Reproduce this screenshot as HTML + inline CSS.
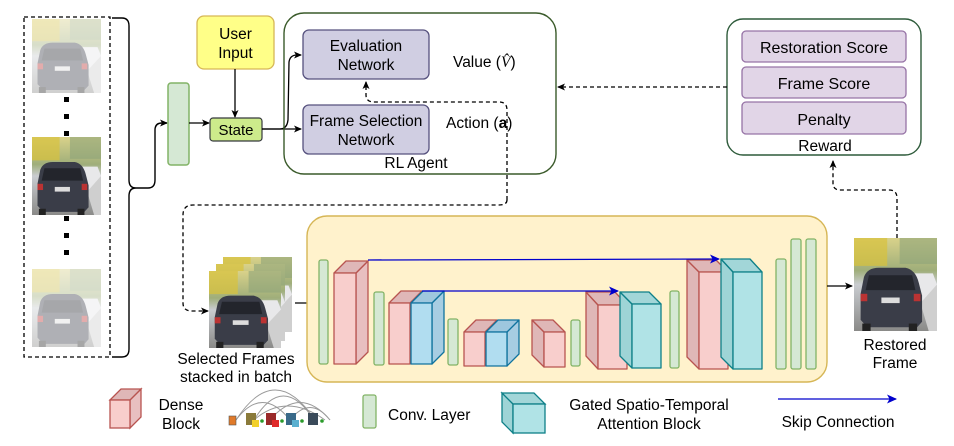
<!DOCTYPE html>
<html><head><meta charset="utf-8"><style>
html,body{margin:0;padding:0;background:#fff;width:954px;height:446px;overflow:hidden}
svg{display:block}
text{font-family:"Liberation Sans",sans-serif;fill:#000}
</style></head><body>
<svg width="954" height="446" viewBox="0 0 954 446" xmlns="http://www.w3.org/2000/svg">
<defs>
<marker id="ab" markerWidth="8" markerHeight="8" refX="7" refY="4" orient="auto" markerUnits="userSpaceOnUse"><path d="M0,0.5 L8,4 L0,7.5 L2,4z" fill="#000"/></marker>
<marker id="abl" markerWidth="10" markerHeight="10" refX="9" refY="5" orient="auto" markerUnits="userSpaceOnUse"><path d="M0,0.5 L10,5 L0,9.5 L2.5,5z" fill="#0000cc"/></marker>
<linearGradient id="sky" x1="0" y1="0" x2="0" y2="1"><stop offset="0" stop-color="#d9d28a"/><stop offset="0.35" stop-color="#9fae7a"/><stop offset="0.5" stop-color="#c9ccd0"/><stop offset="1" stop-color="#8a8a88"/></linearGradient>
<g id="car">
<rect x="0" y="0" width="100" height="100" fill="url(#sky)"/>
<rect x="0" y="0" width="40" height="30" fill="#d8c23a" opacity="0.7"/>
<rect x="55" y="0" width="45" height="28" fill="#8ea37a" opacity="0.6"/>
<path d="M72,38 L95,38 L100,50 L100,70 L78,75z" fill="#e8e8ea"/>
<path d="M80,70 L100,50 L100,100 L90,100z" fill="#cfcfcf"/>
<path d="M12,42 Q16,32 30,32 L62,32 Q74,34 78,48 L82,62 L82,90 L76,96 L16,96 L8,88 L8,60z" fill="#3a3d48"/>
<path d="M18,40 L70,40 L74,56 L14,56z" fill="#23252c"/>
<rect x="33" y="64" width="22" height="6" fill="#ddd"/>
<rect x="8" y="60" width="8" height="8" fill="#b33"/><rect x="72" y="60" width="8" height="8" fill="#b33"/>
<rect x="10" y="92" width="10" height="8" fill="#222"/><rect x="66" y="92" width="10" height="8" fill="#222"/>
</g>
</defs>

<rect x="24" y="17" width="86" height="340" fill="none" stroke="#000" stroke-dasharray="4,3" stroke-width="1.3"/>
<g transform="translate(32,19) scale(0.69,0.74)" opacity="0.4"><use href="#car"/></g>
<rect x="64" y="97" width="5" height="5"/><rect x="64" y="114" width="5" height="5"/><rect x="64" y="131" width="5" height="5"/>
<g transform="translate(32,137) scale(0.69,0.78)"><use href="#car"/></g>
<rect x="64" y="216" width="5" height="5"/><rect x="64" y="233" width="5" height="5"/><rect x="64" y="250" width="5" height="5"/>
<g transform="translate(32,269) scale(0.69,0.78)" opacity="0.4"><use href="#car"/></g>

<path d="M112,18 L122,18 Q129,18 129,26 L129,180 Q129,188 136,188 Q129,188 129,196 L129,349 Q129,357 122,357 L112,357" fill="none" stroke="#000" stroke-width="1.4"/>
<path d="M136,188 L148,188 Q155,188 155,180 L155,130 Q155,123 162,123 L167,123" fill="none" stroke="#000" stroke-width="1.4" marker-end="url(#ab)"/>

<rect x="168" y="83" width="21" height="82" rx="3" fill="#d5e8d4" stroke="#82b366" stroke-width="1.5"/>
<line x1="189" y1="123" x2="209" y2="123" stroke="#000" stroke-width="1.3" marker-end="url(#ab)"/>

<rect x="197" y="16" width="77" height="53" rx="7" fill="#ffff88" stroke="#d6b656" stroke-width="1.3"/>
<text x="235.5" y="39" font-size="15.5" text-anchor="middle">User</text>
<text x="235.5" y="58" font-size="15.5" text-anchor="middle">Input</text>
<line x1="235" y1="69" x2="235" y2="117" stroke="#000" stroke-width="1.3" marker-end="url(#ab)"/>

<rect x="210" y="118" width="52" height="23" rx="3" fill="#cdeb8b" stroke="#36393d" stroke-width="1.2"/>
<text x="236" y="135" font-size="15" text-anchor="middle">State</text>
<path d="M262,129 L280,129 Q287,129 288,120 L289,62 Q290,55 297,55 L301,55" fill="none" stroke="#000" stroke-width="1.3" marker-end="url(#ab)"/>
<line x1="262" y1="129" x2="301" y2="129" stroke="#000" stroke-width="1.3" marker-end="url(#ab)"/>

<rect x="284" y="13" width="272" height="161" rx="20" fill="none" stroke="#3a5a2a" stroke-width="1.4"/>
<rect x="303" y="30" width="126" height="49" rx="6" fill="#d0cee2" stroke="#56517e" stroke-width="1.3"/>
<text x="366" y="51" font-size="15.5" text-anchor="middle">Evaluation</text>
<text x="366" y="70" font-size="15.5" text-anchor="middle">Network</text>
<rect x="303" y="105" width="126" height="49" rx="6" fill="#d0cee2" stroke="#56517e" stroke-width="1.3"/>
<text x="366" y="126" font-size="15.5" text-anchor="middle">Frame Selection</text>
<text x="366" y="145" font-size="15.5" text-anchor="middle">Network</text>
<text x="453" y="67" font-size="15.5">Value (<tspan font-family="Liberation Serif" font-style="italic">V̂</tspan>)</text>
<text x="446" y="128" font-size="15.5">Action (<tspan font-weight="bold">a</tspan>)</text>
<text x="416" y="168" font-size="15.5" text-anchor="middle">RL Agent</text>

<path d="M507,200 L507,110 Q507,102 499,102 L374,102 Q366,102 366,95 L366,82" fill="none" stroke="#000" stroke-dasharray="4,3" stroke-width="1.3" marker-end="url(#ab)"/>
<path d="M507,200 Q507,205 499,205 L193,205 Q183,205 183,215 L183,303 Q183,311 192,311 L208,311" fill="none" stroke="#000" stroke-dasharray="4,3" stroke-width="1.3" marker-end="url(#ab)"/>

<rect x="727" y="19" width="194" height="136" rx="16" fill="none" stroke="#2d5a3a" stroke-width="1.4"/>
<rect x="742" y="31" width="164" height="31" rx="4" fill="#e1d5e7" stroke="#9673a6" stroke-width="1.3"/>
<text x="824" y="53" font-size="16" text-anchor="middle">Restoration Score</text>
<rect x="742" y="67" width="164" height="31" rx="4" fill="#e1d5e7" stroke="#9673a6" stroke-width="1.3"/>
<text x="824" y="89" font-size="16" text-anchor="middle">Frame Score</text>
<rect x="742" y="102" width="164" height="32" rx="4" fill="#e1d5e7" stroke="#9673a6" stroke-width="1.3"/>
<text x="824" y="125" font-size="16" text-anchor="middle">Penalty</text>
<text x="825" y="151" font-size="15.5" text-anchor="middle">Reward</text>
<line x1="727" y1="87" x2="558" y2="87" stroke="#000" stroke-dasharray="4,3" stroke-width="1.3" marker-end="url(#ab)"/>
<path d="M897,238 L897,198 Q897,190 889,190 L840,190 Q833,190 833,183 L833,161" fill="none" stroke="#000" stroke-dasharray="4,3" stroke-width="1.3" marker-end="url(#ab)"/>

<g transform="translate(223,257) scale(0.69,0.75)"><use href="#car"/></g>
<g transform="translate(216,264) scale(0.69,0.77)"><use href="#car"/></g>
<g transform="translate(209,271) scale(0.72,0.77)"><use href="#car"/></g>
<text x="236" y="364" font-size="15.5" text-anchor="middle">Selected Frames</text>
<text x="236" y="382" font-size="15.5" text-anchor="middle">stacked in batch</text>
<line x1="295" y1="303" x2="317" y2="303" stroke="#000" stroke-width="1.3" marker-end="url(#ab)"/>

<rect x="307" y="216" width="520" height="166" rx="20" fill="#fff2cc" stroke="#d6b656" stroke-width="1.4"/>
<g stroke="#82b366" stroke-width="1.3" fill="#d5e8d4">
<rect x="319" y="260" width="9" height="104" rx="2"/>
<rect x="374" y="292" width="10" height="73" rx="2"/>
<rect x="448" y="319" width="10" height="46" rx="2"/>
<rect x="571" y="320" width="9" height="46" rx="2"/>
<rect x="670" y="291" width="9" height="77" rx="2"/>
<rect x="776" y="259" width="10" height="110" rx="2"/>
<rect x="791" y="239" width="10" height="130" rx="2"/>
<rect x="806" y="239" width="10" height="130" rx="2"/>
</g>
<g stroke-width="1.3" stroke-linejoin="round">
<path d="M356,273 L368,261 L368,352 L356,364z" fill="#e8bfc0" stroke="#b85450"/>
<path d="M334,273 L346,261 L368,261 L356,273z" fill="#dfb7b7" stroke="#b85450"/>
<rect x="334" y="273" width="22" height="91" fill="#f8cecc" stroke="#b85450"/>
<path d="M389,303 L401,291 L422,291 L410,303z" fill="#dfb7b7" stroke="#b85450"/>
<rect x="389" y="303" width="21" height="61" fill="#f8cecc" stroke="#b85450"/>
<path d="M432,303 L444,291 L444,352 L432,364z" fill="#a7cde2" stroke="#10739e"/>
<path d="M411,303 L423,291 L444,291 L432,303z" fill="#9ec7de" stroke="#10739e"/>
<rect x="411" y="303" width="21" height="61" fill="#b1ddf0" stroke="#10739e"/>
<path d="M464,332 L476,320 L497,320 L485,332z" fill="#dfb7b7" stroke="#b85450"/>
<rect x="464" y="332" width="21" height="34" fill="#f8cecc" stroke="#b85450"/>
<path d="M507,332 L519,320 L519,354 L507,366z" fill="#a7cde2" stroke="#10739e"/>
<path d="M486,332 L498,320 L519,320 L507,332z" fill="#9ec7de" stroke="#10739e"/>
<rect x="486" y="332" width="21" height="34" fill="#b1ddf0" stroke="#10739e"/>
<path d="M544,332 L532,320 L532,355 L544,367z" fill="#dfb7b7" stroke="#b85450"/>
<path d="M532,320 L553,320 L565,332 L544,332z" fill="#dfb7b7" stroke="#b85450"/>
<rect x="544" y="332" width="21" height="35" fill="#f8cecc" stroke="#b85450"/>
<path d="M598,305 L586,292 L586,356 L598,369z" fill="#dfb7b7" stroke="#b85450"/>
<path d="M586,292 L615,292 L627,305 L598,305z" fill="#dfb7b7" stroke="#b85450"/>
<rect x="598" y="305" width="29" height="64" fill="#f8cecc" stroke="#b85450"/>
<path d="M632,304 L620,292 L620,356 L632,368z" fill="#9ed4d6" stroke="#0e8088"/>
<path d="M620,292 L649,292 L661,304 L632,304z" fill="#a2d6d8" stroke="#0e8088"/>
<rect x="632" y="304" width="29" height="64" fill="#b0e3e6" stroke="#0e8088"/>
<path d="M699,272 L687,260 L687,357 L699,369z" fill="#dfb7b7" stroke="#b85450"/>
<path d="M687,260 L716,260 L728,272 L699,272z" fill="#dfb7b7" stroke="#b85450"/>
<rect x="699" y="272" width="29" height="97" fill="#f8cecc" stroke="#b85450"/>
<path d="M733,272 L721,259 L721,357 L733,369z" fill="#9ed4d6" stroke="#0e8088"/>
<path d="M721,259 L750,259 L762,272 L733,272z" fill="#a2d6d8" stroke="#0e8088"/>
<rect x="733" y="272" width="29" height="97" fill="#b0e3e6" stroke="#0e8088"/>
</g>
<line x1="368" y1="260" x2="719" y2="259" stroke="#0000cc" stroke-width="1.3" marker-end="url(#abl)"/>
<line x1="422" y1="291" x2="618" y2="291" stroke="#0000cc" stroke-width="1.3" marker-end="url(#abl)"/>
<line x1="827" y1="286" x2="852" y2="286" stroke="#000" stroke-width="1.3" marker-end="url(#ab)"/>

<g transform="translate(854,238) scale(0.83,0.93)"><use href="#car"/></g>
<text x="895" y="350" font-size="15.5" text-anchor="middle">Restored</text>
<text x="895" y="368" font-size="15.5" text-anchor="middle">Frame</text>

<g stroke-width="1.3">
<path d="M130,400 L141,389 L141,417 L130,428z" fill="#e8bfc0" stroke="#b85450"/>
<path d="M110,400 L121,389 L141,389 L130,400z" fill="#dfb7b7" stroke="#b85450"/>
<rect x="110" y="400" width="20" height="28" fill="#f8cecc" stroke="#b85450"/>
</g>
<text x="181" y="410" font-size="15.5" text-anchor="middle">Dense</text>
<text x="181" y="429" font-size="15.5" text-anchor="middle">Block</text>
<g fill="none" stroke="#999" stroke-width="0.9">
<path d="M236,420 Q275,360 315,420"/><path d="M254,420 Q283,372 314,420"/><path d="M236,420 Q262,385 290,420"/>
<path d="M254,420 Q286,392 325,420"/><path d="M270,420 Q300,385 330,420"/><path d="M290,420 Q310,395 330,420"/>
</g>
<rect x="229" y="416" width="7" height="9" fill="#e07a2a" stroke="#555" stroke-width="0.6"/>
<rect x="246" y="413" width="10" height="12" fill="#8a7a3a"/><rect x="252" y="420" width="7" height="7" fill="#f2d02a"/>
<rect x="266" y="413" width="10" height="12" fill="#9a2a2a"/><rect x="272" y="420" width="7" height="7" fill="#e02a2a"/>
<rect x="286" y="413" width="10" height="12" fill="#3a6a8a"/><rect x="292" y="420" width="7" height="7" fill="#5ab0d0"/>
<rect x="308" y="413" width="10" height="12" fill="#3a4a5a"/>
<g fill="#2a9a2a"><circle cx="262" cy="421" r="1.8"/><circle cx="282" cy="421" r="1.8"/><circle cx="302" cy="421" r="1.8"/><circle cx="322" cy="421" r="1.8"/></g>
<rect x="363" y="395" width="13" height="33" rx="2" fill="#d5e8d4" stroke="#82b366" stroke-width="1.3"/>
<text x="388" y="420" font-size="15.5">Conv. Layer</text>
<g stroke-width="1.3">
<path d="M513,404 L502,393 L502,422 L513,433z" fill="#9ed4d6" stroke="#0e8088"/>
<path d="M502,393 L534,393 L545,404 L513,404z" fill="#a2d6d8" stroke="#0e8088"/>
<rect x="513" y="404" width="32" height="29" fill="#b0e3e6" stroke="#0e8088"/>
</g>
<text x="649" y="410" font-size="15.5" text-anchor="middle">Gated Spatio-Temporal</text>
<text x="649" y="429" font-size="15.5" text-anchor="middle">Attention Block</text>
<line x1="778" y1="399" x2="896" y2="399" stroke="#0000cc" stroke-width="1.3" marker-end="url(#abl)"/>
<text x="838" y="427" font-size="15.5" text-anchor="middle">Skip Connection</text>
</svg>
</body></html>
